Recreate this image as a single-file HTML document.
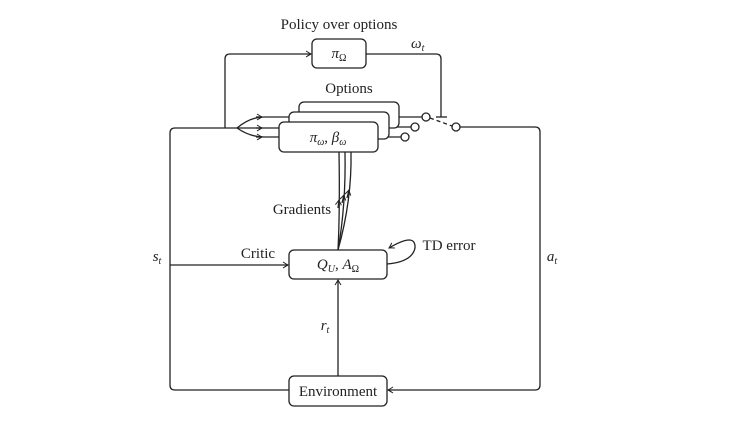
<!DOCTYPE html>
<html><head><meta charset="utf-8"><style>
html,body{margin:0;padding:0;background:#fff;}
svg{display:block;font-family:"Liberation Serif",serif;}
text{fill:#222;}
</style></head><body>
<svg width="741" height="422" viewBox="0 0 741 422">
<defs>
<marker id="ar" markerWidth="8" markerHeight="8" refX="6" refY="4" orient="auto" markerUnits="userSpaceOnUse">
<path d="M1,1 Q4,3 6,4 Q4,5 1,7" fill="none" stroke="#222" stroke-width="1"/>
</marker>
</defs>
<g fill="none" stroke="#222" stroke-width="1.3">
<!-- policy over options loop -->
<path d="M225,128 V59 Q225,54 230,54 H311" marker-end="url(#ar)"/>
<path d="M366,54 H436 Q441,54 441,59 V117"/>
<line x1="436" y1="117" x2="447" y2="117"/>
<!-- fan and outputs drawn first, covered by boxes -->
<path d="M237,128 Q250,117 264,117 H310" />
<path d="M237,128 H300"/>
<path d="M237,128 Q250,137 264,137 H290"/>
<path d="M256,117 H262" marker-end="url(#ar)"/>
<path d="M256,128 H262" marker-end="url(#ar)"/>
<path d="M256,137 H262" marker-end="url(#ar)"/>
<line x1="380" y1="117" x2="422" y2="117"/>
<line x1="370" y1="127" x2="411" y2="127"/>
<line x1="370" y1="137" x2="401" y2="137"/>
<!-- option boxes -->
<rect x="299" y="102" width="100" height="26" rx="5" fill="#fff"/>
<rect x="289" y="112" width="100" height="27" rx="5" fill="#fff"/>
<rect x="279" y="122" width="99" height="30" rx="5" fill="#fff"/>
<circle cx="426" cy="117" r="4" fill="#fff"/>
<circle cx="415" cy="127" r="4" fill="#fff"/>
<circle cx="405" cy="137" r="4" fill="#fff"/>
<line x1="430" y1="118" x2="452" y2="126" stroke-dasharray="4,3"/>
<circle cx="456" cy="127" r="4" fill="#fff"/>
<path d="M460,127 H535 Q540,127 540,132 V385 Q540,390 535,390 H388" marker-end="url(#ar)"/>
<!-- state loop -->
<path d="M289,390 H175 Q170,390 170,385 V133 Q170,128 175,128 H237"/>
<!-- critic -->
<path d="M170,265 H288" marker-end="url(#ar)"/>
<rect x="289" y="250" width="98" height="29" rx="5" fill="#fff"/>
<rect x="289" y="376" width="98" height="30" rx="5" fill="#fff"/>
<path d="M338,376 V280" marker-end="url(#ar)"/>
<!-- TD error loop -->
<path d="M387,264 Q412,262 415,248 Q416,232 389,248" marker-end="url(#ar)"/>
<!-- gradients -->
<path d="M338,250 Q340,210 339,152"/>
<path d="M338,250 Q346,205 345,152"/>
<path d="M338,250 Q352,200 351,152"/>
<path d="M338,208 L339,200" marker-end="url(#ar)"/>
<path d="M342,203 L344,195" marker-end="url(#ar)"/>
<path d="M347,198 L349,190" marker-end="url(#ar)"/>
</g>
<rect x="312" y="39" width="54" height="29" rx="5" fill="#fff" stroke="#222" stroke-width="1.3"/>
<g font-size="15">
<text x="339" y="29" text-anchor="middle">Policy over options</text>
<text x="339" y="58" text-anchor="middle" font-style="italic">π<tspan font-size="10" dy="3" font-style="normal">Ω</tspan></text>
<text x="411" y="48" font-style="italic">ω<tspan font-size="10" dy="3">t</tspan></text>
<text x="349" y="93" text-anchor="middle">Options</text>
<text x="328" y="142" text-anchor="middle" font-style="italic">π<tspan font-size="10" dy="3">ω</tspan><tspan dy="-3" font-style="normal">,   </tspan>β<tspan font-size="10" dy="3">ω</tspan></text>
<text x="302" y="214" text-anchor="middle">Gradients</text>
<text x="258" y="258" text-anchor="middle">Critic</text>
<text x="157" y="261" text-anchor="middle" font-style="italic">s<tspan font-size="10" dy="3">t</tspan></text>
<text x="552" y="261" text-anchor="middle" font-style="italic">a<tspan font-size="10" dy="3">t</tspan></text>
<text x="338" y="269" text-anchor="middle" font-style="italic">Q<tspan font-size="10" dy="3">U</tspan><tspan dy="-3" font-style="normal">, </tspan>A<tspan font-size="10" dy="3" font-style="normal">Ω</tspan></text>
<text x="449" y="250" text-anchor="middle">TD error</text>
<text x="325" y="330" text-anchor="middle" font-style="italic">r<tspan font-size="10" dy="3">t</tspan></text>
<text x="338" y="396" text-anchor="middle">Environment</text>
</g>
</svg>
</body></html>
